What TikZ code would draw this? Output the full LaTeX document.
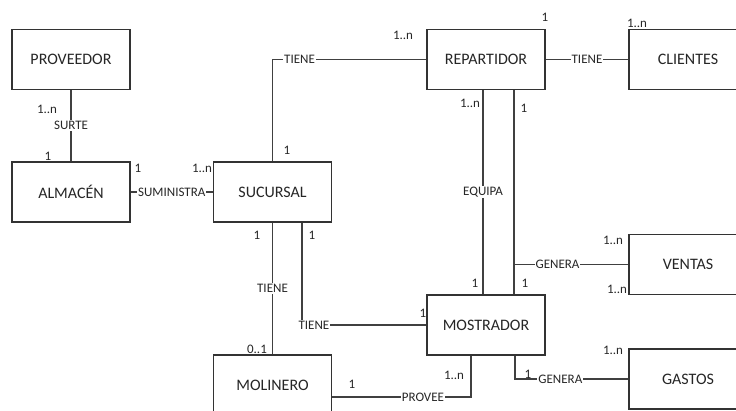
\documentclass[tikz,border=0pt]{standalone}
\usepackage{fontspec}
\setmainfont{Carlito}
\begin{document}
\begin{tikzpicture}[x=1pt,y=-1pt,
  ent/.style={draw=black!80,line width=1.1pt,fill=white,minimum width=118pt,minimum height=60pt,inner sep=0pt,font=\fontsize{16}{18}\selectfont,text=black!85},
  conn/.style={draw=black!75,line width=1.1pt},
  lbl/.style={fill=white,inner sep=1pt,font=\fontsize{13}{15}\selectfont,text=black!85},
  card/.style={inner sep=0pt,font=\fontsize{13}{15}\selectfont,text=black!85}]
\useasboundingbox (0,0) rectangle (736,411);
\clip (0,0) rectangle (736,411);
% entities
\node[ent] (prov) at (71,59.5) {PROVEEDOR};
\node[ent] (alm) at (71,192) {ALMACÉN};
\node[ent] (suc) at (272.5,192) {SUCURSAL};
\node[ent] (rep) at (486,59.5) {REPARTIDOR};
\node[ent] (cli) at (688,59.5) {CLIENTES};
\node[ent] (ven) at (688,264.5) {VENTAS};
\node[ent] (mos) at (486,325) {MOSTRADOR};
\node[ent] (mol) at (272.5,385) {MOLINERO};
\node[ent] (gas) at (688,379) {GASTOS};
% helper coordinates
\coordinate (r1) at ([xshift=-3pt]rep.south);
\coordinate (r2) at ([xshift=28pt]rep.south);
\coordinate (m1) at ([xshift=-3pt]mos.north);
\coordinate (m2) at ([xshift=28pt]mos.north);
\coordinate (s2) at ([xshift=29.5pt]suc.south);
\coordinate (mp) at ([xshift=-15pt]mos.south);
\coordinate (mg) at ([xshift=29pt]mos.south);
\coordinate (lp) at ([yshift=-12pt]mol.east);
% connectors
\draw[conn] (prov.south) -- (alm.north) node[lbl,pos=0.5] (l1) {SURTE};
\draw[conn] (alm.east) -- (suc.west) node[lbl,pos=0.5] (l2) {SUMINISTRA};
\draw[conn] (suc.north) |- (rep.west) node[lbl,pos=0.588] (l3) {TIENE};
\draw[conn] (rep.east) -- (cli.west) node[lbl,pos=0.5] (l4) {TIENE};
\draw[conn] (r1) -- (m1) node[lbl,pos=0.5] (l5) {EQUIPA};
\draw[conn] (r2) -- (m2);
\draw[conn] (ven.west) -- (ven.west -| r2) node[lbl,pos=0.62] (l6) {GENERA};
\draw[conn] (suc.south) -- (mol.north) node[lbl,pos=0.5] (l7) {TIENE};
\draw[conn] (s2) |- (mos.west) node[lbl,pos=0.548] (l8) {TIENE};
\draw[conn] (lp) -| (mp) node[lbl,pos=0.327] (l9) {PROVEE};
\draw[conn] (mg) |- (gas.west) node[lbl,pos=0.7] (l10) {GENERA};
% cardinalities
\node[card] (c1) at (47,109) {1..n};
\node[card] (c2) at (48,156) {1};
\node[card] (c3) at (138,168) {1};
\node[card] (c4) at (202,168) {1..n};
\node[card] (c5) at (287,150) {1};
\node[card] (c6) at (403,35) {1..n};
\node[card] (c7) at (545,17) {1};
\node[card] (c8) at (637,23) {1..n};
\node[card] (c9) at (470,103) {1..n};
\node[card] (c10) at (524,108) {1};
\node[card] (c11) at (257,235) {1};
\node[card] (c12) at (312,235) {1};
\node[card] (c13) at (613,240) {1..n};
\node[card] (c14) at (475,283) {1};
\node[card] (c15) at (525,283) {1};
\node[card] (c16) at (617,289) {1..n};
\node[card] (c17) at (423,313) {1};
\node[card] (c18) at (257,349) {0..1};
\node[card] (c19) at (352,384) {1};
\node[card] (c20) at (454,375) {1..n};
\node[card] (c21) at (528,374) {1};
\node[card] (c22) at (613,350) {1..n};
\end{tikzpicture}
\end{document}
